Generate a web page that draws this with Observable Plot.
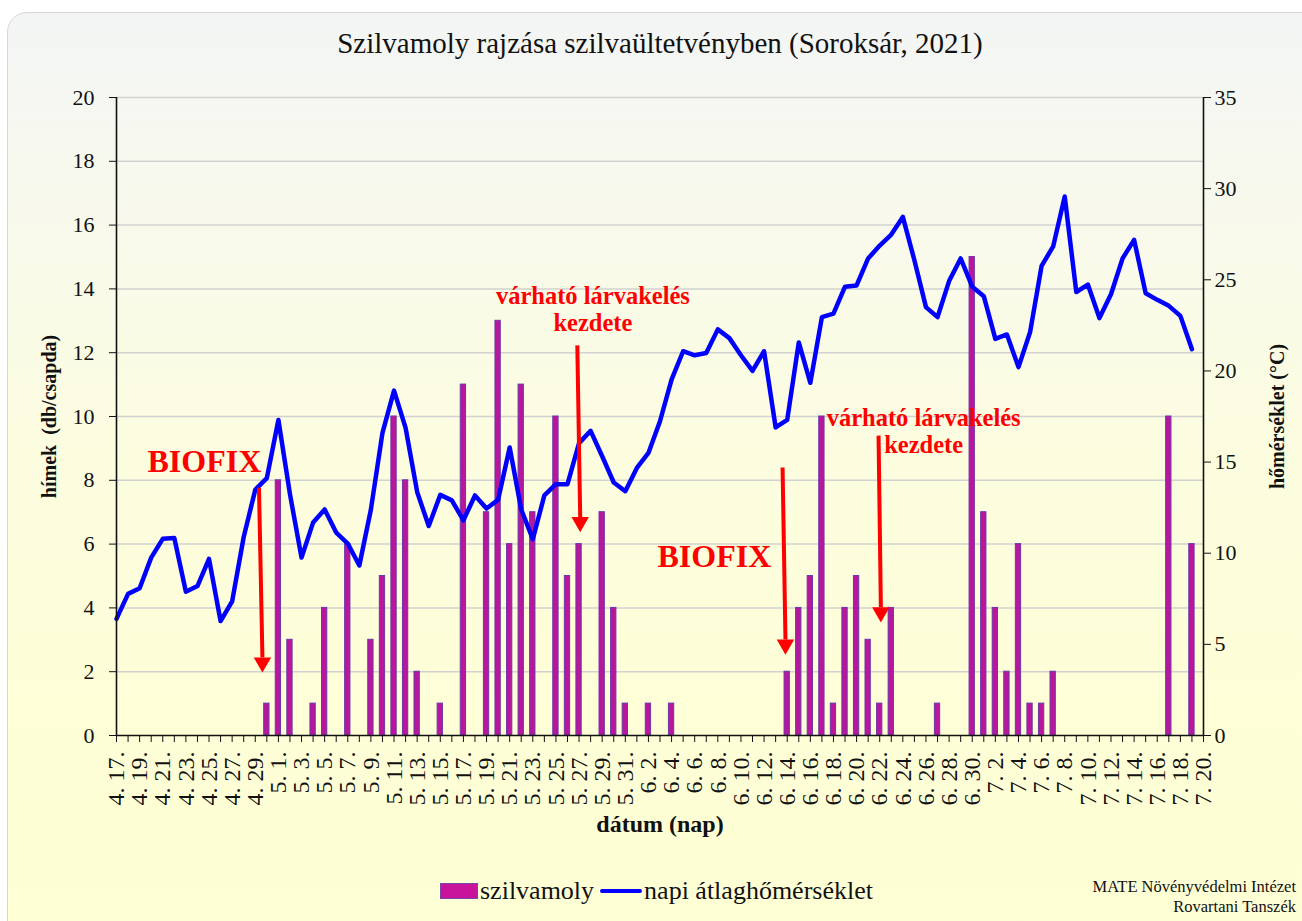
<!DOCTYPE html>
<html>
<head>
<meta charset="utf-8">
<script src="https://cdn.jsdelivr.net/npm/d3@7"></script>
<script src="https://cdn.jsdelivr.net/npm/@observablehq/plot@0.6"></script>
<style>
  html, body { margin: 0; padding: 0; }
  body { width: 1302px; height: 921px; overflow: hidden; background: #ffffff; font-family: "Liberation Serif", "Times New Roman", serif; position: relative; }
  #panel { position: absolute; left: 7px; top: 12px; width: 1320px; height: 930px; border: 1.5px solid #d6d6d6; border-radius: 20px;
           background: linear-gradient(to bottom, #f3f5f5 0%, #f8f9ec 21%, #fcfddf 48%, #fefed7 75%, #ffffd4 100%); }
  #title { position: absolute; top: 27px; left: 160px; width: 1000px; text-align: center; font-size: 29px; color: #111; }
  #chart { position: absolute; left: 0; top: 0; }
  #chart svg, #chart svg text { font-family: "Liberation Serif", "Times New Roman", serif !important; }
  #legend { position: absolute; top: 876px; left: 440px; font-size: 26px; color: #111; display: flex; align-items: center; }
  .sw-bar { display: inline-block; width: 36px; height: 14px; background: #c8149a; border: 1.5px solid #7a45a5; margin-right: 2px; }
  .sw-line { display: inline-block; width: 42px; height: 4px; background: #0000ff; border-radius: 2px; margin-left: 6px; margin-right: 2px; }
  #caption { position: absolute; right: 6px; top: 877px; text-align: right; font-size: 16.5px; line-height: 20px; color: #111; }
</style>
</head>
<body>
<div id="panel"></div>
<div id="title">Szilvamoly rajzása szilvaültetvényben (Soroksár, 2021)</div>
<div id="chart"></div>
<div id="legend"><span class="sw-bar"></span>szilvamoly<span class="sw-line"></span>napi átlaghőmérséklet</div>
<div id="caption">MATE Növényvédelmi Intézet<br>Rovartani Tanszék</div>
<script>
// ---------- DATA ----------
const firstDay = "2021-04-17";
const lastDay = "2021-07-20";

// daily mean temperature (°C), one value per day from 4.17 to 7.19
const temperature = [
  6.4, 7.77, 8.08, 9.76, 10.79, 10.84, 7.89, 8.2, 9.69, 6.28,
  7.36, 10.89, 13.48, 14.12, 17.31, 13.24, 9.76, 11.68, 12.4, 11.13,
  10.53, 9.33, 12.4, 16.6, 18.92, 16.88, 13.36, 11.49, 13.2, 12.9,
  11.8, 13.17, 12.45, 12.93, 15.8, 12.4, 10.77, 13.17, 13.79, 13.79,
  16.04, 16.71, 15.32, 13.88, 13.4, 14.68, 15.5, 17.24, 19.52, 21.08,
  20.86, 20.98, 22.28, 21.8, 20.86, 20.0, 21.08, 16.9, 17.31, 21.56,
  19.35, 22.95, 23.14, 24.62, 24.69, 26.17, 26.88, 27.48, 28.45, 26.07,
  23.5, 22.95, 24.93, 26.17, 24.62, 24.1, 21.76, 22.0, 20.21, 22.12,
  25.76, 26.83, 29.57, 24.33, 24.74, 22.9, 24.21, 26.17, 27.19, 24.26,
  23.9, 23.57, 23.02, 21.19
];

// plum moth catches (males / trap)
const mothDates = [
  "2021-04-30", "2021-05-01", "2021-05-02", "2021-05-04", "2021-05-05", "2021-05-07", "2021-05-09",
  "2021-05-10", "2021-05-11", "2021-05-12", "2021-05-13", "2021-05-15", "2021-05-17", "2021-05-19",
  "2021-05-20", "2021-05-21", "2021-05-22", "2021-05-23", "2021-05-25", "2021-05-26", "2021-05-27",
  "2021-05-29", "2021-05-30", "2021-05-31", "2021-06-02", "2021-06-04", "2021-06-14", "2021-06-15",
  "2021-06-16", "2021-06-17", "2021-06-18", "2021-06-19", "2021-06-20", "2021-06-21", "2021-06-22",
  "2021-06-23", "2021-06-27", "2021-06-30", "2021-07-01", "2021-07-02", "2021-07-03", "2021-07-04",
  "2021-07-05", "2021-07-06", "2021-07-07", "2021-07-17", "2021-07-19"
];
const mothCounts = [
  1, 8, 3, 1, 4, 6, 3,
  5, 10, 8, 2, 1, 11, 7,
  13, 6, 11, 7, 10, 5, 6,
  7, 4, 1, 1, 1, 2, 4,
  5, 10, 1, 4, 5, 3, 1,
  4, 1, 15, 7, 4, 2, 6,
  1, 1, 2, 10, 6
];

const leftTicks = [0, 2, 4, 6, 8, 10, 12, 14, 16, 18, 20];
const rightTicks = [0, 5, 10, 15, 20, 25, 30, 35];

// annotations (day offset from 4.17, value on left axis)
const noteTexts = [
  {text: "BIOFIX", day: 7.6, value: 8.62, size: 32},
  {text: "BIOFIX", day: 51.7, value: 5.64, size: 32},
  {text: "várható lárvakelés\nkezdete", day: 41.2, value: 13.38, size: 24.5},
  {text: "várható lárvakelés\nkezdete", day: 69.8, value: 9.56, size: 24.5}
];
const noteArrows = [
  {day1: 12.32, value1: 7.77, day2: 12.62, value2: 2.1},
  {day1: 39.85, value1: 12.23, day2: 40.1, value2: 6.5},
  {day1: 57.6, value1: 8.4, day2: 57.85, value2: 2.66},
  {day1: 65.9, value1: 9.4, day2: 66.1, value2: 3.67}
];

// ---------- BUILD ----------
const SERIF = "Liberation Serif, Times New Roman, serif";
const parse = d3.utcParse("%Y-%m-%d");
const start = parse(firstDay), end = parse(lastDay);
const dayAt = k => new Date(+start + k * 864e5);
const allDays = d3.utcDay.range(start, d3.utcDay.offset(end, 1));
const labelDays = allDays.filter((d, i) => i % 2 === 0);
const tempData = temperature.map((t, i) => ({date: d3.utcDay.offset(start, i), t}));
const mothData = mothDates.map((d, i) => ({date: parse(d), count: mothCounts[i]}));
const K = 20 / 35; // temperature -> left axis units
const halfBar = 5.5 * 3600e3;
const fmt = d => `${d.getUTCMonth() + 1}. ${d.getUTCDate()}.`;

const plot = Plot.plot({
  width: 1302,
  height: 870,
  marginLeft: 116,
  marginRight: 99,
  marginTop: 97,
  marginBottom: 135,
  style: {background: "transparent", fontFamily: SERIF, fontSize: "22px", color: "#111"},
  x: {type: "utc", domain: [start, end], axis: null},
  y: {domain: [0, 20], axis: null},
  marks: [
    Plot.gridY(leftTicks.slice(1), {stroke: "#d2d2d2", strokeOpacity: 1, strokeWidth: 1.5}),
    Plot.rectY(mothData, {
      x1: d => new Date(+d.date - halfBar), x2: d => new Date(+d.date + halfBar),
      y1: 0, y2: "count", fill: "#b8169d", stroke: "#6e36a8", strokeWidth: 1
    }),
    Plot.line(tempData, {x: "date", y: d => d.t * K, stroke: "#0000ff", strokeWidth: 4.5, strokeLinejoin: "round", strokeLinecap: "round"}),
    // axes
    Plot.ruleY([0], {stroke: "#111", strokeWidth: 1.6}),
    Plot.ruleX([start, end], {stroke: "#111", strokeWidth: 1.6}),
    Plot.axisY({ticks: leftTicks, tickSize: 7, tickPadding: 15, fontSize: 22, fontFamily: SERIF, label: null, stroke: "#111"}),
    Plot.axisY({anchor: "right", ticks: rightTicks.map(v => v * K), tickFormat: d => Math.round(d / K), tickSize: 7, tickPadding: 4, fontSize: 22, fontFamily: SERIF, label: null, stroke: "#111"}),
    Plot.axisX({ticks: allDays, tickFormat: () => "", tickSize: 7, label: null, stroke: "#111"}),
    Plot.axisX({ticks: labelDays, tickFormat: fmt, tickSize: 0, tickPadding: 16, tickRotate: -90, fontSize: 24, fontFamily: SERIF, label: null}),
    // axis titles
    Plot.text(["hímek  (db/csapda)"], {frameAnchor: "left", textAnchor: "middle", dx: -67, rotate: -90, fontWeight: "bold", fontSize: 20, fontFamily: SERIF, fill: "#111"}),
    Plot.text(["hőmérséklet (°C)"], {frameAnchor: "right", textAnchor: "middle", dx: 74, rotate: -90, fontWeight: "bold", fontSize: 20, fontFamily: SERIF, fill: "#111"}),
    Plot.text(["dátum (nap)"], {frameAnchor: "bottom", dy: 96, fontWeight: "bold", fontSize: 24, fontFamily: SERIF, fill: "#111"}),
    // annotations
    Plot.link(noteArrows, {x1: d => dayAt(d.day1), y1: "value1", x2: d => dayAt(d.day2), y2: d => d.value2 + 0.35, stroke: "#ff0000", strokeWidth: 4}),
    Plot.dot(noteArrows, {x: d => dayAt(d.day2), y: d => d.value2, symbol: "triangle", rotate: 180, r: 6.5, dy: -6, fill: "#ff0000", stroke: "none"}),
    Plot.text(noteTexts, {x: d => dayAt(d.day), y: "value", text: "text", fontSize: d => d.size, fontWeight: "bold", fontFamily: SERIF, fill: "#ff0000", lineHeight: 1.1})
  ]
});
document.getElementById("chart").appendChild(plot);
</script>
</body>
</html>
